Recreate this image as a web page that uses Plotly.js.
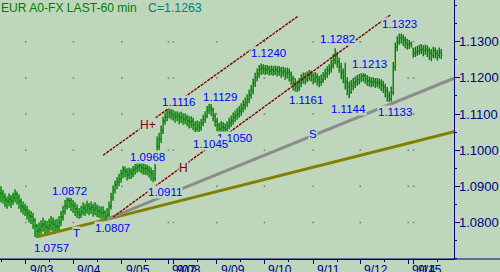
<!DOCTYPE html>
<html>
<head>
<meta charset="utf-8">
<script src="https://cdn.plot.ly/plotly-3.0.1.min.js"></script>
<style>html,body{margin:0;padding:0;background:#bed6bb;}#chart{width:500px;height:272px;}</style>
</head>
<body>
<div id="chart"></div>
<script>
// ---- hourly bars (EUR/USD, 60 min) ----
const hi = [
1.0900,1.0890,1.0880,1.0872,1.0880,1.0876,1.0882,1.0892,1.0886,1.0878,
1.0866,1.0858,1.0852,1.0846,1.0836,1.0832,1.0826,1.0812,1.0796,1.0800,
1.0806,1.0814,1.0806,1.0804,1.0810,1.0818,1.0814,1.0808,1.0810,1.0818,
1.0832,1.0846,1.0862,1.0872,1.0870,1.0868,1.0862,1.0856,1.0850,1.0840,
1.0846,1.0856,1.0852,1.0860,1.0854,1.0858,1.0852,1.0856,1.0850,1.0846,
1.0844,1.0845,1.0834,1.0840,1.0858,1.0882,1.0902,1.0916,1.0926,1.0935,
1.0946,1.0956,1.0955,1.0950,1.0952,1.0950,1.0956,1.0962,1.0965,1.0968,
1.0968,1.0964,1.0962,1.0960,1.0956,1.0952,1.0945,1.0962,1.1038,1.1048,
1.1068,1.1092,1.1104,1.1112,1.1116,1.1114,1.1112,1.1108,1.1108,1.1104,
1.1106,1.1102,1.1102,1.1098,1.1094,1.1094,1.1090,1.1080,1.1082,1.1080,
1.1086,1.1098,1.1108,1.1122,1.1129,1.1128,1.1118,1.1102,1.1090,1.1076,
1.1080,1.1078,1.1074,1.1080,1.1090,1.1096,1.1104,1.1110,1.1116,1.1122,
1.1130,1.1138,1.1146,1.1155,1.1168,1.1180,1.1198,1.1214,1.1226,1.1236,
1.1240,1.1238,1.1236,1.1236,1.1233,1.1234,1.1232,1.1234,1.1232,1.1233,
1.1230,1.1231,1.1228,1.1229,1.1226,1.1218,1.1206,1.1200,1.1192,1.1200,
1.1210,1.1215,1.1215,1.1218,1.1222,1.1220,1.1214,1.1216,1.1212,1.1205,
1.1210,1.1216,1.1225,1.1232,1.1238,1.1250,1.1266,1.1282,1.1272,1.1256,
1.1242,1.1226,1.1242,1.1202,1.1190,1.1194,1.1200,1.1204,1.1208,1.1211,
1.1213,1.1213,1.1212,1.1208,1.1204,1.1202,1.1202,1.1200,1.1200,1.1198,
1.1196,1.1192,1.1184,1.1175,1.1162,1.1176,1.1244,1.1298,1.1315,1.1323,
1.1323,1.1320,1.1314,1.1308,1.1305,1.1300,1.1282,1.1286,1.1288,1.1292,
1.1294,1.1290,1.1292,1.1290,1.1284,1.1280,1.1286,1.1284,1.1278,1.1284,
1.1280];
const lo = [
1.0855,1.0852,1.0842,1.0838,1.0845,1.0840,1.0848,1.0855,1.0850,1.0838,
1.0828,1.0822,1.0818,1.0808,1.0800,1.0796,1.0782,1.0760,1.0757,1.0762,
1.0766,1.0774,1.0768,1.0766,1.0772,1.0778,1.0774,1.0768,1.0772,1.0778,
1.0790,1.0805,1.0822,1.0836,1.0840,1.0832,1.0826,1.0818,1.0812,1.0810,
1.0812,1.0820,1.0818,1.0824,1.0820,1.0824,1.0816,1.0820,1.0815,1.0812,
1.0810,1.0810,1.0807,1.0808,1.0815,1.0836,1.0860,1.0880,1.0892,1.0900,
1.0910,1.0922,1.0925,1.0916,1.0920,1.0920,1.0925,1.0932,1.0938,1.0940,
1.0936,1.0932,1.0932,1.0930,1.0924,1.0916,1.0911,1.0915,1.0995,1.1000,
1.1020,1.1045,1.1070,1.1080,1.1088,1.1085,1.1082,1.1076,1.1080,1.1072,
1.1075,1.1070,1.1072,1.1066,1.1060,1.1062,1.1055,1.1050,1.1052,1.1050,
1.1054,1.1066,1.1076,1.1088,1.1100,1.1095,1.1080,1.1065,1.1052,1.1045,
1.1048,1.1048,1.1050,1.1050,1.1058,1.1064,1.1070,1.1078,1.1084,1.1090,
1.1095,1.1104,1.1112,1.1120,1.1130,1.1142,1.1155,1.1175,1.1190,1.1200,
1.1208,1.1210,1.1208,1.1210,1.1206,1.1208,1.1205,1.1208,1.1204,1.1206,
1.1200,1.1204,1.1195,1.1198,1.1190,1.1180,1.1165,1.1162,1.1161,1.1164,
1.1174,1.1184,1.1182,1.1188,1.1192,1.1190,1.1182,1.1186,1.1178,1.1174,
1.1178,1.1186,1.1194,1.1200,1.1208,1.1214,1.1226,1.1238,1.1228,1.1214,
1.1196,1.1185,1.1168,1.1152,1.1144,1.1156,1.1166,1.1172,1.1178,1.1182,
1.1188,1.1190,1.1184,1.1178,1.1176,1.1174,1.1176,1.1172,1.1174,1.1170,
1.1164,1.1158,1.1146,1.1135,1.1133,1.1135,1.1152,1.1220,1.1274,1.1292,
1.1295,1.1288,1.1282,1.1278,1.1280,1.1284,1.1256,1.1258,1.1261,1.1264,
1.1266,1.1260,1.1264,1.1258,1.1250,1.1246,1.1254,1.1254,1.1248,1.1254,
1.1252];
const cl = [
1.0880,1.0870,1.0862,1.0858,1.0865,1.0860,1.0868,1.0878,1.0870,1.0858,
1.0845,1.0840,1.0835,1.0825,1.0818,1.0815,1.0805,1.0790,1.0775,1.0780,
1.0790,1.0795,1.0788,1.0785,1.0792,1.0800,1.0795,1.0788,1.0790,1.0800,
1.0815,1.0830,1.0845,1.0862,1.0860,1.0850,1.0845,1.0838,1.0828,1.0822,
1.0830,1.0840,1.0835,1.0845,1.0838,1.0842,1.0835,1.0840,1.0832,1.0830,
1.0825,1.0828,1.0815,1.0820,1.0845,1.0870,1.0890,1.0905,1.0912,1.0920,
1.0935,1.0945,1.0940,1.0932,1.0940,1.0935,1.0945,1.0950,1.0955,1.0958,
1.0952,1.0948,1.0950,1.0945,1.0940,1.0935,1.0922,1.0950,1.1010,1.1030,
1.1055,1.1080,1.1092,1.1100,1.1105,1.1100,1.1098,1.1092,1.1095,1.1088,
1.1092,1.1085,1.1090,1.1082,1.1078,1.1080,1.1070,1.1060,1.1068,1.1062,
1.1075,1.1085,1.1095,1.1110,1.1118,1.1112,1.1095,1.1080,1.1068,1.1060,
1.1065,1.1062,1.1058,1.1068,1.1075,1.1082,1.1090,1.1095,1.1100,1.1108,
1.1115,1.1125,1.1132,1.1140,1.1152,1.1165,1.1185,1.1200,1.1212,1.1222,
1.1228,1.1225,1.1222,1.1225,1.1218,1.1222,1.1219,1.1223,1.1217,1.1220,
1.1215,1.1218,1.1212,1.1216,1.1210,1.1198,1.1185,1.1178,1.1172,1.1185,
1.1195,1.1202,1.1198,1.1205,1.1210,1.1205,1.1198,1.1203,1.1195,1.1188,
1.1195,1.1205,1.1212,1.1220,1.1225,1.1235,1.1250,1.1262,1.1245,1.1230,
1.1215,1.1205,1.1190,1.1175,1.1160,1.1178,1.1185,1.1190,1.1195,1.1198,
1.1205,1.1206,1.1198,1.1192,1.1190,1.1188,1.1190,1.1186,1.1188,1.1185,
1.1180,1.1175,1.1165,1.1150,1.1142,1.1160,1.1230,1.1285,1.1300,1.1310,
1.1312,1.1305,1.1298,1.1292,1.1295,1.1290,1.1268,1.1272,1.1275,1.1278,
1.1280,1.1276,1.1279,1.1275,1.1268,1.1262,1.1275,1.1268,1.1262,1.1270,
1.1263];

// ---- time axis (bar index of each day start) ----
const dayTicks  = [12.35, 36.15, 60.35, 83.65, 86.15, 107.85, 131.65, 156, 179.5, 203.5, 206.15];
const dayLabels = ['9/03','9/04','9/05','9/07','9/08','9/09','9/10','9/11','9/12','9/14','9/15'];
const priceTicks = [1.08, 1.09, 1.10, 1.11, 1.12, 1.13];

// ---- drawn trend lines: [bar index], [price] ----
const oliveX = [18, 226.4],  oliveY = [1.0760, 1.1051];
const grayX  = [53, 226.4],  grayY  = [1.0809, 1.1199];
const redLoX = [56, 194.5],  redLoY = [1.0815, 1.1374];
const redHiX = [51, 148.5],  redHiY = [1.0986, 1.1371];

// ---- price labels: text, bar index, price ----
const lblText  = ['1.0757','1.0872','1.0807','1.0968','1.0911','1.1050','1.1045','1.1116','1.1129','1.1240','1.1282','1.1323','1.1213','1.1161','1.1144','1.1133','T','S'];
const lblX     = [25, 34, 55.75, 73.25, 82, 116.5, 104.5, 88.5, 109.5, 133.5, 168, 199, 184, 152.5, 173.5, 197, 37.5, 156];
const lblY     = [1.0728, 1.0887, 1.0785, 1.0981, 1.0884, 1.1033, 1.1016, 1.1134, 1.1146, 1.1268, 1.1307, 1.1349, 1.1238, 1.1138, 1.1115, 1.1106, 1.0770, 1.1044];
const markText = ['H+','H'];
const markX    = [73.5, 91];
const markY    = [1.1069, 1.0950];

const BG = '#bed6bb', NAVY = '#000080', FONT = 'Liberation Sans, Arial, sans-serif';

const idx = cl.map((_, i) => i);
const op = cl.map((c, i) => {
  const p = i === 0 ? c : cl[i - 1];
  return Math.min(Math.max(p, lo[i]), hi[i]);
});

// grid dots at day / price intersections
const gx = [], gy = [];
dayTicks.forEach(d => priceTicks.forEach(p => { gx.push(d); gy.push(p); }));

const minorX = [];
dayTicks.forEach((d, k) => { if (k !== 3 && k !== 9) minorX.push(d + 12); });
minorX.unshift(dayTicks[0] - 12);

const traces = [
  {type:'scatter', mode:'markers', x:gx, y:gy, marker:{size:1.6, color:'#7f7f7f', symbol:'square'}, hoverinfo:'skip'},
  {type:'ohlc', x:idx, open:op, high:hi, low:lo, close:cl, tickwidth:0.5,
   increasing:{line:{color:'#008000', width:1.4}}, decreasing:{line:{color:'#008000', width:1.4}}, hoverinfo:'skip'},
  {type:'scatter', mode:'lines', x:oliveX, y:oliveY, line:{color:'#808000', width:3}, hoverinfo:'skip'},
  {type:'scatter', mode:'lines', x:grayX, y:grayY, line:{color:'#8c8c8c', width:3}, hoverinfo:'skip'},
  {type:'scatter', mode:'lines', x:redLoX, y:redLoY, line:{color:'#800000', width:1.4, dash:'3px,1px'}, hoverinfo:'skip'},
  {type:'scatter', mode:'lines', x:redHiX, y:redHiY, line:{color:'#800000', width:1.4, dash:'3px,1px'}, hoverinfo:'skip'}
];

const annotations = [];
lblText.forEach((t, k) => annotations.push({
  x: lblX[k], y: lblY[k], xref:'x', yref:'y', text:t, showarrow:false,
  xanchor:'center', yanchor:'middle', bgcolor:BG, borderpad:0,
  font:{family:FONT, size:11.5, color:'#0000ff'}
}));
markText.forEach((t, k) => annotations.push({
  x: markX[k], y: markY[k], xref:'x', yref:'y', text:t, showarrow:false,
  xanchor:'center', yanchor:'middle', bgcolor:BG, borderpad:0,
  font:{family:FONT, size:12, color:'#800000'}
}));
// axis tick labels (left-aligned next to each day tick, and right of price ticks)
dayLabels.forEach((t, k) => annotations.push({
  x: dayTicks[k], xref:'x', y:0, yref:'paper', text:t, showarrow:false,
  xanchor:'left', yanchor:'top', xshift:3, yshift:-3, borderpad:0,
  font:{family:FONT, size:12, color:NAVY}
}));
priceTicks.forEach(p => annotations.push({
  x:1, xref:'paper', y:p, yref:'y', text:p.toFixed(4), showarrow:false,
  xanchor:'left', yanchor:'middle', xshift:4, borderpad:0,
  font:{family:FONT, size:13, color:NAVY}
}));
annotations.push({xref:'paper', yref:'paper', x:0, y:1, xanchor:'left', yanchor:'top', showarrow:false,
  text:'EUR A0-FX LAST-60 min', font:{family:FONT, size:12.1, color:'#008000'}, borderpad:0});
annotations.push({xref:'paper', yref:'paper', x:147/454, y:1, xanchor:'left', yanchor:'top', showarrow:false,
  text:'C=' + cl[cl.length - 1].toFixed(4), font:{family:FONT, size:12.3, color:'#008080'}, borderpad:0});

const layout = {
  width:500, height:272,
  margin:{l:0, r:46, t:0, b:13, pad:0},
  paper_bgcolor:BG, plot_bgcolor:BG,
  showlegend:false, dragmode:false, hovermode:false,
  xaxis:{
    range:[-0.5, 226.35], rangeslider:{visible:false},
    tickmode:'array', tickvals:dayTicks, ticktext:dayLabels, showticklabels:false,
    ticks:'outside', ticklen:4, tickwidth:1, tickcolor:NAVY,
    showline:true, linecolor:NAVY, linewidth:1,
    showgrid:false, zeroline:false,
    minor:{tickmode:'array', tickvals:minorX, ticks:'outside', ticklen:2, tickcolor:NAVY}
  },
  yaxis:{
    side:'right', range:[1.06989, 1.14155],
    tickmode:'array', tickvals:priceTicks, showticklabels:false,
    ticks:'outside', ticklen:5, tickwidth:1, tickcolor:NAVY,
    showline:true, linecolor:NAVY, linewidth:1,
    showgrid:false, zeroline:false,
    minor:{dtick:0.005, tick0:1.075, ticks:'outside', ticklen:2, tickcolor:NAVY}
  },
  shapes:[{type:'line', xref:'paper', yref:'paper', x0:0, x1:500/454, y0:0, y1:0, line:{color:NAVY, width:1}}],
  annotations:annotations
};

Plotly.newPlot('chart', traces, layout, {staticPlot:true, displayModeBar:false});
</script>
</body>
</html>
